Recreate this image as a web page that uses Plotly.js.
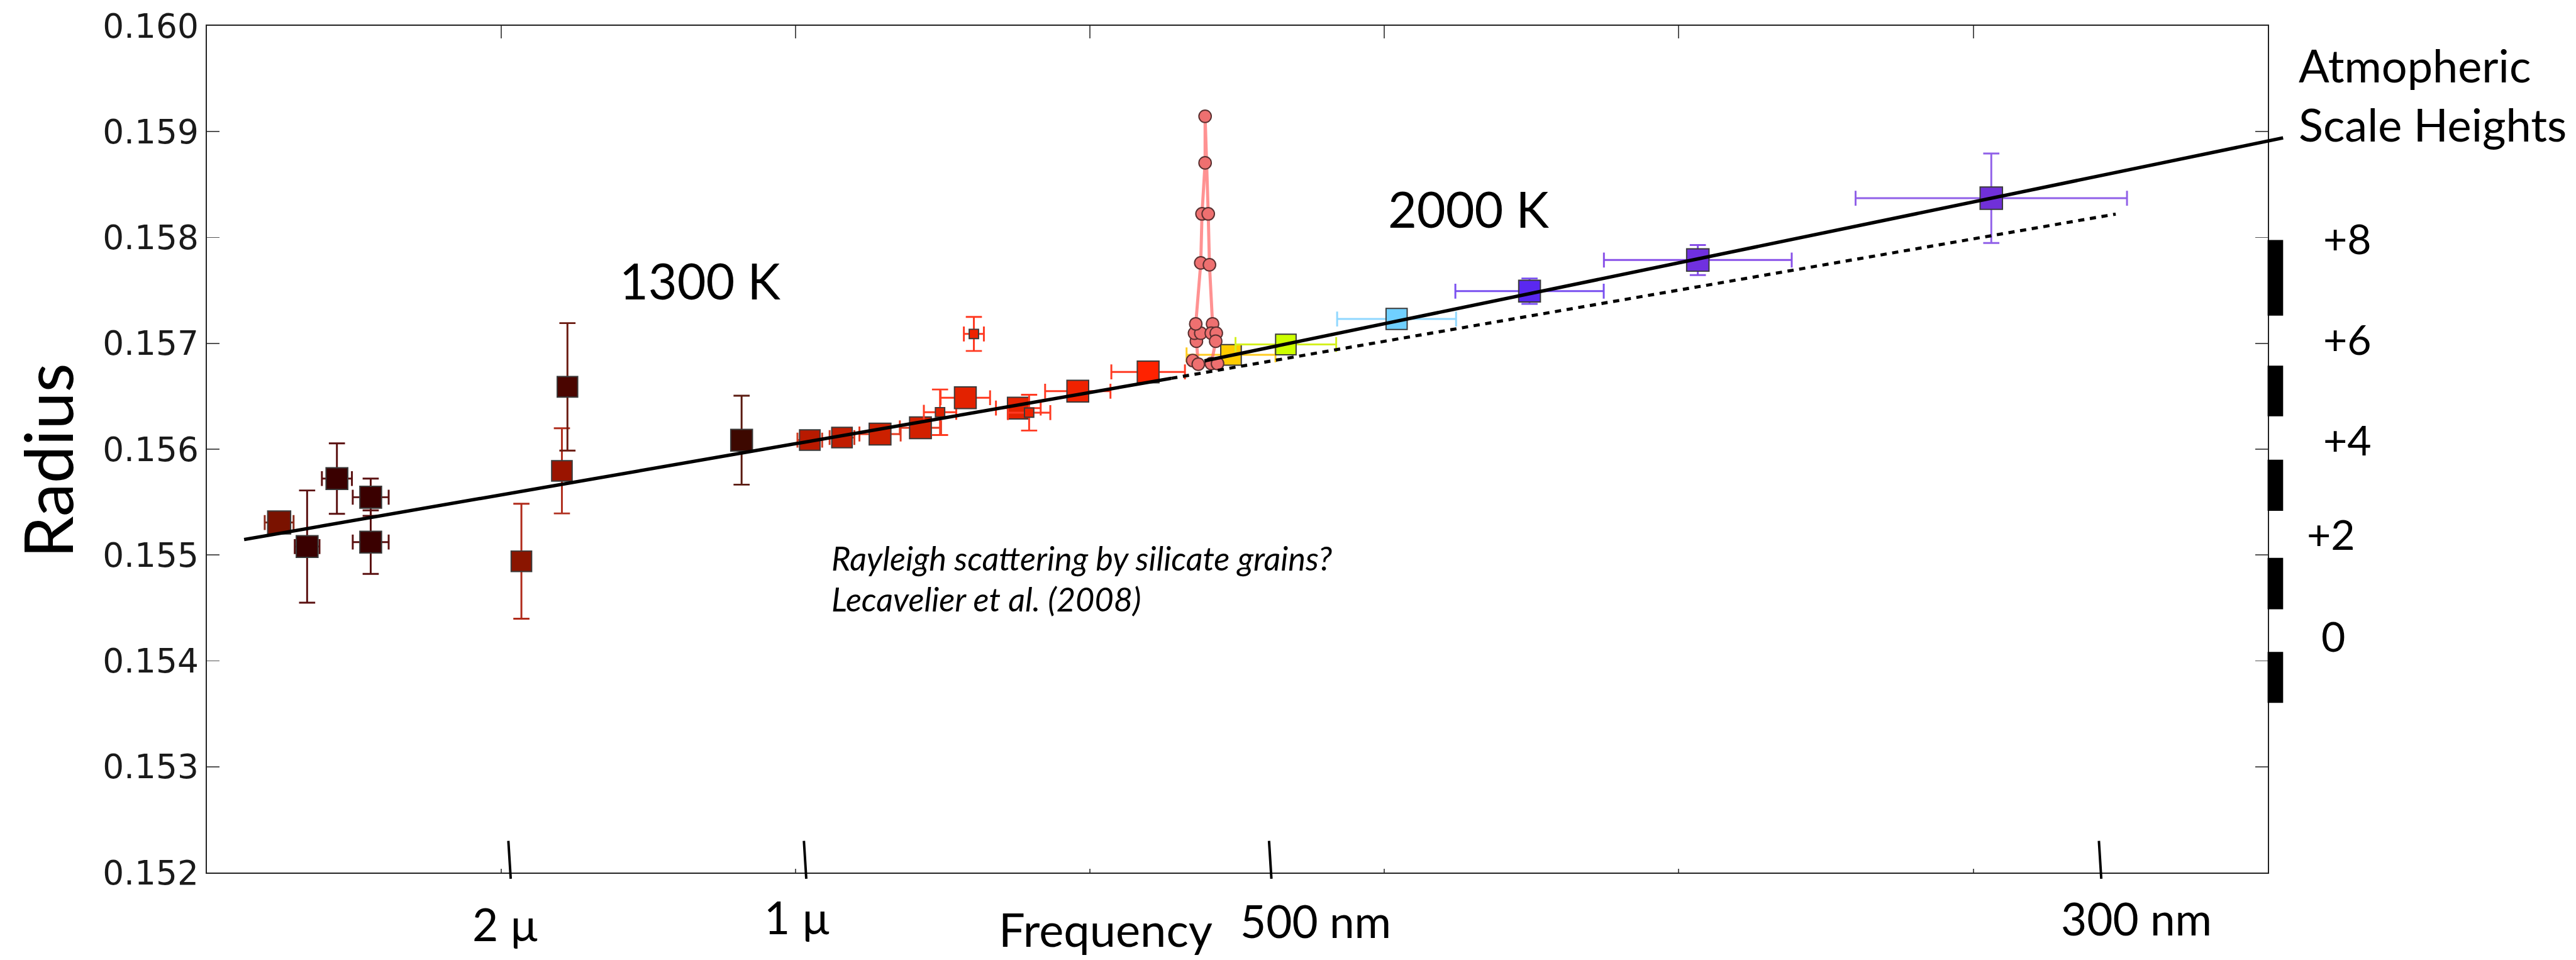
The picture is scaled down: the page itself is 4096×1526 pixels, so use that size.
<!DOCTYPE html>
<html><head><meta charset="utf-8">
<script src="https://cdn.plot.ly/plotly-3.0.1.min.js"></script>
<style>html,body{margin:0;padding:0;background:#fff;}#chart{width:4096px;height:1526px;}</style>
</head><body><div id="chart"></div>
<script>
// ---------------- data ----------------
// x axis: frequency, in units of the original (unlabelled) tick spacing
const freqTickVals = [1, 2, 3, 4, 5, 6];
const bandLabels   = ['2 µ', '1 µ', '500 nm', '300 nm'];
const bandTickX    = [1.028, 2.032, 3.612, 6.431];
const bandLabelX   = [1.015, 2.006, 3.766, 6.554];

// photometric / spectroscopic radius points
const ptX    = [0.2454, 0.3404, 0.4416, 0.5564, 0.5564, 1.0683, 1.2059, 1.2247, 1.8163, 2.0480, 2.1573, 2.2866, 2.4238, 2.4904, 2.5763, 2.6053, 2.7563, 2.7930, 2.9583, 3.1973, 3.4788, 3.6651, 4.0413, 4.4929, 5.0645, 6.0614];
const ptY    = [0.155307, 0.155080, 0.155722, 0.155546, 0.155122, 0.154941, 0.155795, 0.156589, 0.156085, 0.156086, 0.156110, 0.156143, 0.156202, 0.156349, 0.156486, 0.157089, 0.156388, 0.156345, 0.156548, 0.156730, 0.156891, 0.156989, 0.157230, 0.157493, 0.157787, 0.158371];
const ptXErr = [0.049, 0.042, 0.051, 0.061, 0.061, 0, 0, 0, 0, 0.042, 0.042, 0.070, 0.070, 0.055, 0.084, 0.034, 0.076, 0.072, 0.111, 0.125, 0.151, 0.171, 0.202, 0.252, 0.319, 0.461];
const ptYErr = [0.00007, 0.00053, 0.000333, 0.000176, 0.0003, 0.000543, 0.000402, 0.000602, 0.00042, 0.00006, 0.00006, 0, 0, 0.000215, 0, 0.000161, 0, 0.000169, 0, 0, 0, 0, 0, 0.00012, 0.000142, 0.000423];
const ptSize = [37, 35, 35, 35, 35, 33, 33, 33, 35, 33, 33, 35, 35, 15, 35, 15, 35, 15, 35, 35, 33, 33, 34, 35, 36, 36];
const ptColor = ['#7a1200', '#3a0000', '#3a0000', '#3a0000', '#3a0000', '#8a1500', '#9a1400', '#4a0500', '#3d0800', '#b81a00', '#c01c00', '#cc2000', '#d22000', '#dd2200', '#e32200', '#ee2200', '#e42200', '#ee2200', '#f02200', '#ff2200', '#ffcc00', '#ccff00', '#70d0ff', '#5a28f0', '#7030e0', '#7030d8'];
const ptErrColor = ['#8a2a1a', '#5a1010', '#5a1010', '#5a1010', '#5a1010', '#b02a1a', '#b03020', '#6a1a10', '#5a1a10', '#d03a20', '#d03a20', '#e03a20', '#e03a20', '#ff3a20', '#ff3a20', '#ff3a22', '#ff3a22', '#ff3a22', '#ff3a22', '#ff3a22', '#ffcc20', '#d4f020', '#90d8ff', '#7a50f0', '#8850e8', '#9060e8'];

// high-resolution sodium line points
const naX = [3.3486, 3.3676, 3.3613, 3.3549, 3.3761, 3.3591, 3.3761, 3.3803, 3.3908, 3.3908, 3.4014, 3.4056, 3.4161, 3.4119, 3.4288, 3.4267, 3.4119, 3.4330];
const naY = [0.156838, 0.156803, 0.157020, 0.157096, 0.157096, 0.157184, 0.157760, 0.158223, 0.158705, 0.159145, 0.158223, 0.157742, 0.157184, 0.157096, 0.157096, 0.157020, 0.156809, 0.156809];

// fits: 1300 K (solid then dotted) and 2000 K
const fit1300X = [0.1264, 3.2758, 6.4841];
const fit1300Y = [0.155146, 0.156669, 0.158221];
const fit2000X = [3.3887, 7.0527];
const fit2000Y = [0.156834, 0.158941];

// atmospheric scale heights (right side)
const scaleBarTop    = [0.157976, 0.156789, 0.155901, 0.154973, 0.154084];
const scaleBarBottom = [0.157262, 0.156310, 0.155418, 0.154488, 0.153603];
const scaleLabels    = ['+8', '+6', '+4', '+2', '0'];
const scaleLabelY    = [0.157997, 0.157044, 0.156095, 0.155200, 0.154235];

// ---------------- layout helpers ----------------
const S = 4096 / 4147;
const REF = {left: 333, right: 3650.5, top: 41.5, bottom: 1404, width: 4147};
function px(X) { return (X - REF.left) / (REF.width - REF.left); }
function py(Y) { return (REF.bottom - Y) / (REF.bottom - REF.top); }
const scaleLabelLeft = [3738, 3738, 3738, 3712, 3735];
const bandLabelYpx = [1487, 1475, 1481, 1477];

const traces = [];
for (let i = 0; i < ptX.length; i++) {
  traces.push({
    type: 'scatter', mode: 'markers', x: [ptX[i]], y: [ptY[i]],
    error_x: {type: 'data', array: [ptXErr[i]], visible: ptXErr[i] > 0, color: ptErrColor[i], thickness: 3 * S, width: 12 * S},
    error_y: {type: 'data', array: [ptYErr[i]], visible: ptYErr[i] > 0, color: ptErrColor[i], thickness: 3 * S, width: 13 * S},
    marker: {symbol: 'square', size: ptSize[i] * S, color: ptColor[i], line: {color: '#3a3a3a', width: 2 * S}},
    hoverinfo: 'skip', showlegend: false
  });
}
traces.push({
  type: 'scatter', mode: 'lines+markers', x: naX, y: naY,
  line: {color: 'rgba(255,100,100,0.7)', width: 5 * S},
  marker: {symbol: 'circle', size: 20 * S, color: '#ee7070', line: {color: '#5a3030', width: 2 * S}},
  hoverinfo: 'skip', showlegend: false
});
traces.push({
  type: 'scatter', mode: 'lines', x: fit1300X.slice(0, 2), y: fit1300Y.slice(0, 2),
  line: {color: '#000', width: 5.5 * S}, hoverinfo: 'skip', showlegend: false
});
traces.push({
  type: 'scatter', mode: 'lines', x: fit1300X.slice(1), y: fit1300Y.slice(1),
  line: {color: '#000', width: 5 * S, dash: (10 * S) + 'px,' + (9 * S) + 'px'}, hoverinfo: 'skip', showlegend: false
});
traces.push({
  type: 'scatter', mode: 'lines', x: fit2000X, y: fit2000Y, xaxis: 'x2', yaxis: 'y',
  line: {color: '#000', width: 5.5 * S}, hoverinfo: 'skip', showlegend: false
});
traces.push({type: 'scatter', x: [], y: [], xaxis: 'x3', yaxis: 'y', hoverinfo: 'skip', showlegend: false});

const shapes = [];
bandTickX.forEach(v => shapes.push({
  type: 'line', xref: 'x', yref: 'paper', x0: v - 0.004, x1: v + 0.004, y0: py(1353), y1: py(1414),
  line: {color: '#000', width: 4 * S}
}));
scaleBarTop.forEach((t, i) => shapes.push({
  type: 'rect', xref: 'paper', yref: 'y', x0: px(3650.5), x1: px(3675.5), y0: scaleBarBottom[i], y1: t,
  fillcolor: '#000', line: {width: 0}
}));

const F = 'Lato, "Noto Sans", sans-serif';
const annotations = [];
function ann(o) { annotations.push(Object.assign({showarrow: false, xref: 'paper', yref: 'paper', xanchor: 'center', yanchor: 'middle'}, o)); }
ann({text: 'Radius', x: px(76), y: py(741), textangle: -90, font: {family: F, size: 108 * S, color: '#000'}});
ann({text: '1300 K', x: px(1127), y: py(451), font: {family: F, size: 80 * S, color: '#000'}});
ann({text: '2000 K', x: px(2365), y: py(336), font: {family: F, size: 80 * S, color: '#000'}});
ann({text: 'Atmopheric<br>Scale Heights', x: px(3698), y: py(152), xanchor: 'left', align: 'left', font: {family: F, size: 73 * S, color: '#000'}});
scaleLabels.forEach((t, i) => ann({text: t, x: px(scaleLabelLeft[i]), xanchor: 'left', yref: 'y', y: scaleLabelY[i], font: {family: F, size: 67 * S, color: '#000'}}));
bandLabels.forEach((t, i) => ann({text: t, xref: 'x', x: bandLabelX[i], y: py(bandLabelYpx[i]), font: {family: F, size: 72 * S, color: '#000'}}));
ann({text: 'Frequency', x: px(1606), xanchor: 'left', y: py(1495), font: {family: F, size: 75 * S, color: '#000'}});
ann({text: '<i>Rayleigh scattering by silicate grains?</i>', x: px(1336), xanchor: 'left', y: py(897), font: {family: F, size: 53 * S, color: '#000'}});
ann({text: '<i>Lecavelier et al. (2008)</i>', x: px(1336), xanchor: 'left', y: py(963.5), font: {family: F, size: 53 * S, color: '#000'}});

const layout = {
  width: 4096, height: 1526,
  margin: {l: REF.left * S, r: 0, t: REF.top * S, b: (1545 - REF.bottom) * S, pad: 0},
  paper_bgcolor: '#fff', plot_bgcolor: 'rgba(0,0,0,0)', showlegend: false,
  xaxis: {domain: [0, px(REF.right)], range: [0, 7], tickvals: freqTickVals, ticks: 'inside', ticklen: 6 * S, tickwidth: 2 * S, tickcolor: '#555',
    showticklabels: false, showline: true, linecolor: '#222', linewidth: 2.5 * S, mirror: true, showgrid: false, zeroline: false},
  xaxis3: {overlaying: 'x', side: 'top', anchor: 'y', range: [0, 7], tickvals: freqTickVals, ticks: 'inside', ticklen: 20 * S, tickwidth: 2 * S, tickcolor: '#555',
    showticklabels: false, showline: false, showgrid: false, zeroline: false},
  xaxis2: {domain: [0, 1], anchor: 'y', range: [0, 7 * (REF.width - REF.left) / (REF.right - REF.left)], visible: false},
  yaxis: {range: [0.152, 0.160], tick0: 0.152, dtick: 0.001, tickformat: '.3f', ticks: 'inside', ticklen: 20 * S, tickwidth: 2 * S, tickcolor: '#555',
    showline: true, linecolor: '#222', linewidth: 2.5 * S, mirror: 'ticks', showgrid: false, zeroline: false,
    tickfont: {family: 'DejaVu Sans', size: 54 * S, color: '#1a1a1a'}},
  shapes: shapes, annotations: annotations
};
Plotly.newPlot('chart', traces, layout, {staticPlot: true, displayModeBar: false});
</script></body></html>
